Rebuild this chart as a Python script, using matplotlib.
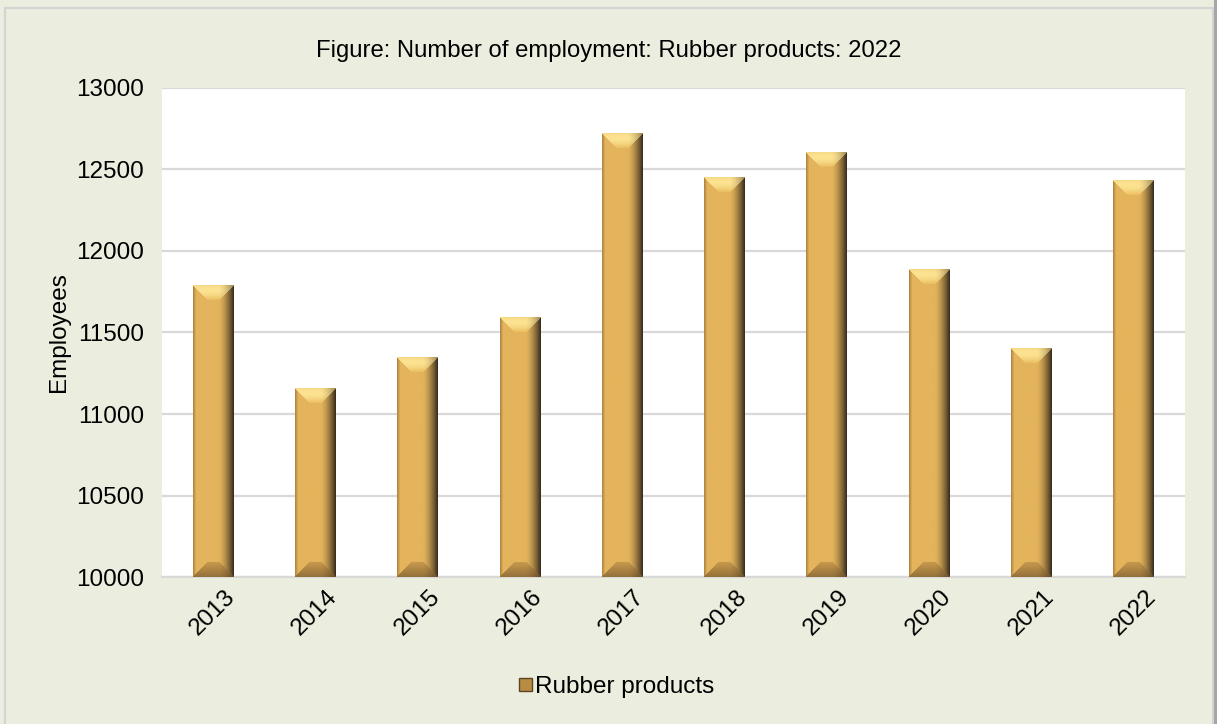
import numpy as np
import matplotlib.pyplot as plt
from matplotlib.patches import Patch, Rectangle
from matplotlib.colors import to_rgb
from matplotlib.transforms import ScaledTranslation

plt.rcParams['font.family'] = ['Liberation Sans', 'DejaVu Sans']

years = ['2013', '2014', '2015', '2016', '2017', '2018', '2019', '2020', '2021', '2022']
employees = [11790, 11155, 11345, 11590, 12720, 12450, 12605, 11885, 11400, 12430]

bg = '#EBEEDE'
grid_col = '#D9D9D9'
fs = 17.5

fig = plt.figure(figsize=(12.17, 7.24), dpi=100, facecolor=bg)
ax = fig.add_axes([0.1331, 0.2030, 0.8406, 0.6755])
ax.set_facecolor('white')

x = np.arange(len(years))
bar_w = 0.4
bars = ax.bar(x, np.array(employees) - 10000, bottom=10000, width=bar_w,
              color='#E4B45C', linewidth=0, zorder=2, label='Rubber products')

ax.set_xlim(-0.5, len(years) - 0.5)
ax.set_ylim(10000, 13000)
ax.set_yticks(np.arange(10000, 13001, 500))
ax.yaxis.grid(True, color=grid_col, linewidth=1.6, zorder=0)
ax.set_axisbelow(True)
for side in ['left', 'right', 'top']:
    ax.spines[side].set_visible(False)
ax.spines['bottom'].set_color(grid_col)
ax.spines['bottom'].set_linewidth(1.6)
ax.tick_params(axis='both', length=0, labelsize=fs, colors='black')
ax.tick_params(axis='y', pad=13)
ax.set_xticks(x)
ax.set_xticklabels(years, rotation=45, ha='right', va='top', rotation_mode='anchor')
ax.tick_params(axis='x', pad=6)
# nudge the slanted year labels to the right
for lbl in ax.get_xticklabels():
    lbl.set_transform(lbl.get_transform() + ScaledTranslation(0.11, 0, fig.dpi_scale_trans))
ax.set_ylabel('Employees', fontsize=fs, labelpad=4)

# pixel scale of the axes, used to keep the bevel a fixed size on screen
ax_w_px = 0.8406 * 1217
ax_h_px = 0.6755 * 724
px_per_x = ax_w_px / len(years)
px_per_y = ax_h_px / 3000.0

face = np.array(to_rgb('#E4B45C'))
left_edge = np.array(to_rgb('#A8803F'))
right_edge = np.array(to_rgb('#33271A'))
top_light = np.array(to_rgb('#FCE291'))
top_dark = np.array(to_rgb('#E9BD5F'))
bot_col = np.array(to_rgb('#C89A4E'))
bot_dark = np.array(to_rgb('#94703A'))


def bevel_image(w, h, b=15):
    cols = np.arange(w) + 0.5
    rows = np.arange(h) + 0.5
    u = cols / w
    # horizontal shading across the bar
    prof = np.empty((w, 3))
    for i, uu in enumerate(u):
        if uu < 0.08:
            t = uu / 0.08
            prof[i] = left_edge * (1 - t) + face * t
        elif uu < 0.62:
            prof[i] = face
        else:
            t = ((uu - 0.62) / 0.38) ** 1.6
            prof[i] = face * (1 - t) + right_edge * t
    img = np.tile(prof[None, :, :], (h, 1, 1))
    dl = cols[None, :]
    dr = w - cols[None, :]
    dt = rows[:, None]
    db = h - rows[:, None]
    side = np.minimum(dl, dr)
    top_mask = (dt < b) & (dt <= side)
    bot_mask = (db < b) & (db <= side) & ~top_mask
    tt = np.clip(dt / b, 0, 1)
    k = np.sin(np.pi * (0.25 + 0.75 * tt))[..., None]
    top_rgb = top_dark[None, None, :] * (1 - k) + top_light[None, None, :] * k
    top_rgb = np.broadcast_to(top_rgb, img.shape)
    tb = np.clip(db / b, 0, 1)
    bot_rgb = bot_dark[None, None, :] * (1 - tb[..., None]) + bot_col[None, None, :] * tb[..., None]
    bot_rgb = np.broadcast_to(bot_rgb, img.shape)
    # right part of the caps stays darker
    shade = np.clip((cols - 0.62 * w) / (0.38 * w), 0, 1)[None, :, None] ** 1.6
    top_rgb = top_rgb * (1 - 0.5 * shade) + right_edge * 0.5 * shade
    bot_rgb = bot_rgb * (1 - 0.5 * shade) + right_edge * 0.5 * shade
    img = np.where(top_mask[..., None], top_rgb, img)
    img = np.where(bot_mask[..., None], bot_rgb, img)
    return img


for rect in bars:
    x0 = rect.get_x()
    x1 = x0 + rect.get_width()
    y0 = rect.get_y()
    y1 = y0 + rect.get_height()
    w = max(int(round((x1 - x0) * px_per_x)), 4)
    h = max(int(round((y1 - y0) * px_per_y)), 4)
    ax.imshow(bevel_image(w, h), extent=(x0, x1, y0, y1), origin='upper',
              aspect='auto', interpolation='bilinear', zorder=3)

ax.set_xlim(-0.5, len(years) - 0.5)
ax.set_ylim(10000, 13000)

fig.text(0.5, 0.929, 'Figure: Number of employment: Rubber products: 2022',
         ha='center', va='center', fontsize=17.2)

handle = Patch(facecolor='#B88C42', edgecolor='#5E4422', linewidth=1)
fig.legend([handle], ['Rubber products'], loc='center', bbox_to_anchor=(0.507, 0.051),
           frameon=False, fontsize=fs, handlelength=0.5, handleheight=0.5,
           handletextpad=0.15)

# chart frame with a darker right edge
fig.patches.append(Rectangle((0.004, -0.01), 0.993, 0.999, transform=fig.transFigure,
                             fill=False, edgecolor='#D3D3D3', linewidth=1.5))
fig.patches.append(Rectangle((0.9975, 0.0), 0.0025, 1.0, transform=fig.transFigure,
                             facecolor='#A6A6A6', edgecolor='none'))

fig.savefig('out.png', dpi=100, facecolor=bg)
